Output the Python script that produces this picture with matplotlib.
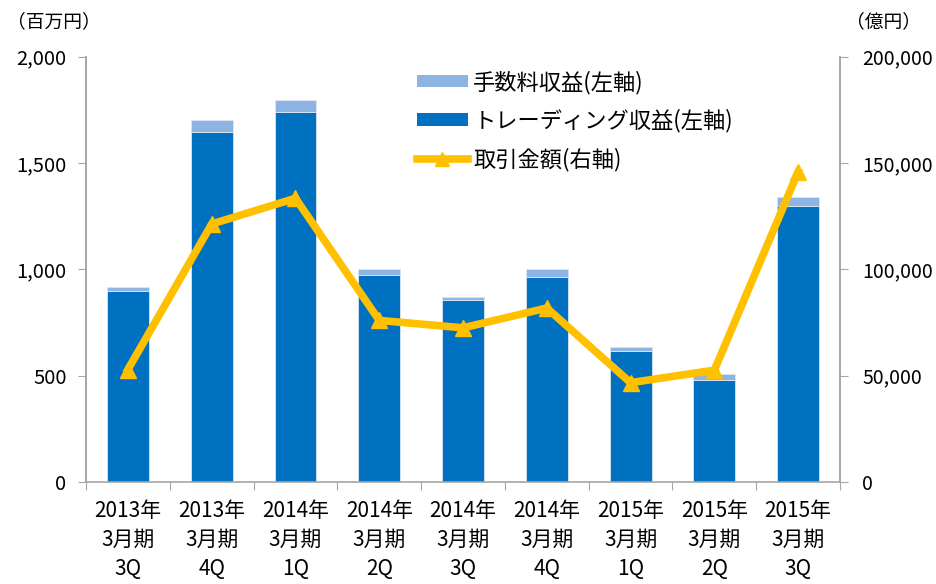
import matplotlib
matplotlib.use("Agg")
import matplotlib.pyplot as plt
import numpy as np
from matplotlib.ticker import FuncFormatter, FixedLocator
from matplotlib.patches import Patch
from matplotlib.lines import Line2D

plt.rcParams['font.family'] = ['Noto Sans CJK JP', 'DejaVu Sans']

categories = ["2013年\n3月期\n3Q", "2013年\n3月期\n4Q", "2014年\n3月期\n1Q",
              "2014年\n3月期\n2Q", "2014年\n3月期\n3Q", "2014年\n3月期\n4Q",
              "2015年\n3月期\n1Q", "2015年\n3月期\n2Q", "2015年\n3月期\n3Q"]
total_revenue = [918, 1703, 1795, 1002, 871, 1002, 637, 506, 1338]
trading_revenue = [899, 1646, 1739, 974, 854, 965, 618, 479, 1299]
commission_revenue = [t - d for t, d in zip(total_revenue, trading_revenue)]
trade_amount = [52900, 121300, 133400, 76000, 72500, 81800, 46700, 52600, 145800]
left_ticks = [0, 500, 1000, 1500, 2000]
right_ticks = [0, 50000, 100000, 150000, 200000]
legend_labels = ["手数料収益(左軸)", "トレーディング収益(左軸)", "取引金額(右軸)"]

c_comm = "#8EB4E3"
c_trade = "#0070C0"
c_line = "#FFC000"
spine_c = "#A6A6A6"

fig = plt.figure(figsize=(9.37, 5.84), dpi=100)
ax = fig.add_axes([0.0918, 0.1746, 0.8047, 0.7284])
ax2 = ax.twinx()

x = np.arange(len(categories))
ax.bar(x, trading_revenue, width=0.5, color=c_trade, edgecolor="#DCE6F2", linewidth=0.6, zorder=2)
ax.bar(x, commission_revenue, width=0.5, bottom=trading_revenue, color=c_comm,
       edgecolor="#DCE6F2", linewidth=0.6, zorder=2)
ax2.plot(x, trade_amount, color=c_line, linewidth=5.5, marker="^", markersize=12,
         solid_joinstyle="miter", zorder=3)

ax.set_xlim(-0.5, len(categories) - 0.5)
ax.set_ylim(0, 2000)
ax2.set_ylim(0, 200000)
ax.set_yticks(left_ticks)
ax2.set_yticks(right_ticks)
ax.yaxis.set_major_formatter(FuncFormatter(lambda v, p: f"{int(v):,}"))
ax2.yaxis.set_major_formatter(FuncFormatter(lambda v, p: f"{int(v):,}"))

ax.xaxis.set_major_locator(FixedLocator(np.arange(-0.5, len(categories) + 0.5, 1)))
ax.xaxis.set_major_formatter(FuncFormatter(lambda v, p: ""))
ax.xaxis.set_minor_locator(FixedLocator(x))
ax.set_xticklabels(categories, minor=True)
ax.tick_params(axis='x', which='minor', length=0, pad=13, labelsize=15)
ax.tick_params(axis='x', which='major', length=6, color=spine_c, direction='out')
for lab in ax.get_xticklabels(minor=True):
    lab.set_linespacing(1.42)

ax.tick_params(axis='y', length=6, color=spine_c, labelsize=14.5, pad=8)
ax2.tick_params(axis='y', length=6, color=spine_c, labelsize=14, pad=10)

for a in (ax, ax2):
    a.spines['top'].set_visible(False)
    for s in ('left', 'right', 'bottom'):
        a.spines[s].set_color(spine_c)
        a.spines[s].set_linewidth(1.2)
ax2.spines['bottom'].set_visible(False)

fig.text(0.008, 0.963, "（百万円）", fontsize=13.5, ha='left', va='center')
fig.text(0.903, 0.963, "（億円）", fontsize=13.5, ha='left', va='center')

handles = [Patch(facecolor=c_comm), Patch(facecolor=c_trade),
           Line2D([0], [0], color=c_line, linewidth=5.5, marker="^", markersize=10)]
leg = ax2.legend(handles, legend_labels, loc='upper left', bbox_to_anchor=(0.412, 1.015),
                 frameon=False, fontsize=16, handlelength=2.3, handleheight=0.5,
                 labelspacing=0.68, handletextpad=0.25)

fig.savefig("out.png", dpi=100)
